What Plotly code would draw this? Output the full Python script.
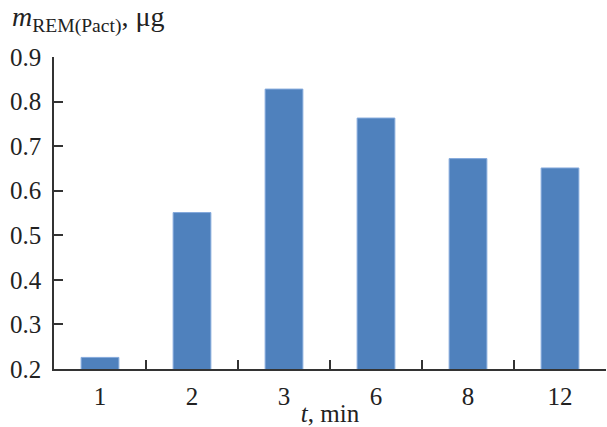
import plotly.graph_objects as go

categories = ["1", "2", "3", "6", "8", "12"]
values = [0.226, 0.551, 0.828, 0.763, 0.672, 0.651]
y_ticks = [0.2, 0.3, 0.4, 0.5, 0.6, 0.7, 0.8, 0.9]
y_ticklabels = ["0.2", "0.3", "0.4", "0.5", "0.6", "0.7", "0.8", "0.9"]

FONT = "Liberation Serif"
AX = "#333333"

fig = go.Figure(go.Bar(
    x=categories, y=values,
    marker=dict(color="#4f81bd", line=dict(color="#84a9dc", width=1)),
    width=0.41,
))

fig.update_layout(
    width=607, height=427,
    margin=dict(l=54, r=1, t=57, b=58),
    plot_bgcolor="white", paper_bgcolor="white",
    showlegend=False,
    font=dict(family=FONT, size=25, color="#222222"),
    xaxis=dict(
        type="category", tickson="boundaries",
        ticks="inside", ticklen=9, tickwidth=1.5, tickcolor=AX,
        showline=True, linecolor=AX, linewidth=1.5,
        showgrid=False, ticklabelstandoff=4,
        title=dict(text="<i>t</i>, min", font=dict(family=FONT, size=25), standoff=0),
    ),
    yaxis=dict(
        range=[0.2, 0.9], tickvals=y_ticks, ticktext=y_ticklabels,
        ticks="inside", ticklen=9, tickwidth=1.5, tickcolor=AX,
        showline=True, linecolor=AX, linewidth=1.5,
        showgrid=False, zeroline=False, ticklabelstandoff=6,
    ),
    annotations=[dict(
        text="<i>m</i><sub>REM(Pact)</sub>, μg",
        xref="paper", yref="paper", x=-0.08, y=1.0, yshift=18,
        xanchor="left", yanchor="bottom", showarrow=False,
        font=dict(family=FONT, size=28, color="#222222"),
    )],
)

fig.write_html("out.html")
